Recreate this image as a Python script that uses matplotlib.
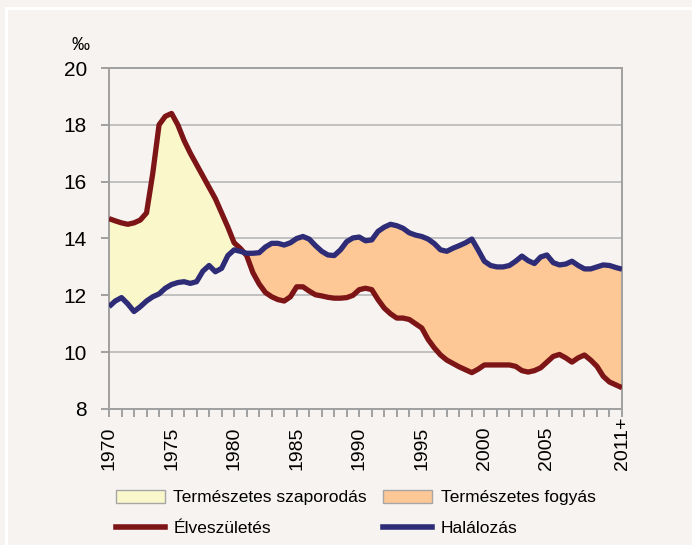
import matplotlib
matplotlib.use('Agg')
import numpy as np
import matplotlib.pyplot as plt
from matplotlib import font_manager
from matplotlib.patches import Patch
from matplotlib.lines import Line2D

# half-year grid, values in per mille
years = np.arange(1970, 2011.01, 0.5)

births = [14.7, 14.62, 14.55, 14.5, 14.55, 14.65, 14.9, 16.3, 18.0, 18.3,
          18.4, 18.0, 17.45, 17.0, 16.6, 16.2, 15.8, 15.4, 14.9, 14.4,
          13.85, 13.65, 13.4, 12.8, 12.4, 12.1, 11.95, 11.85, 11.8, 11.95,
          12.3, 12.3, 12.15, 12.02, 11.98, 11.93, 11.9, 11.9, 11.92, 12.0,
          12.2, 12.25, 12.2, 11.85, 11.55, 11.35, 11.2, 11.2, 11.15, 11.0,
          10.85, 10.45, 10.15, 9.9, 9.72, 9.6, 9.48, 9.38, 9.28, 9.4,
          9.55, 9.55, 9.55, 9.55, 9.55, 9.5, 9.35, 9.3, 9.35, 9.45,
          9.65, 9.85, 9.92, 9.8, 9.65, 9.8, 9.9, 9.72, 9.5, 9.15,
          8.95, 8.85, 8.75]

deaths = [11.6, 11.8, 11.92, 11.7, 11.43, 11.6, 11.8, 11.95, 12.05, 12.25,
          12.38, 12.45, 12.48, 12.42, 12.48, 12.85, 13.05, 12.83, 12.95, 13.4,
          13.6, 13.55, 13.48, 13.48, 13.5, 13.7, 13.83, 13.83, 13.77, 13.85,
          14.0, 14.07, 13.98, 13.75, 13.55, 13.42, 13.4, 13.6, 13.89, 14.02,
          14.05, 13.92, 13.95, 14.25, 14.4, 14.5, 14.45, 14.36, 14.2, 14.12,
          14.07, 13.98, 13.82, 13.6, 13.55, 13.66, 13.75, 13.85, 13.98, 13.6,
          13.2, 13.05, 13.0, 13.0, 13.05, 13.2, 13.38, 13.22, 13.12, 13.35,
          13.42, 13.15, 13.07, 13.1, 13.2, 13.05, 12.93, 12.93, 13.0, 13.07,
          13.05, 12.98, 12.92]

xticks = [1970, 1975, 1980, 1985, 1990, 1995, 2000, 2005, 2011]
xlabels = ['1970', '1975', '1980', '1985', '1990', '1995', '2000', '2005', '2011+']
yticks = [8, 10, 12, 14, 16, 18, 20]

bg = '#F6F3F0'
red = '#7D1416'
blue = '#2E2C76'
yellow = '#FAF7CB'
orange = '#FDC896'
axcol = '#A0A0A0'

names = [f.name for f in font_manager.fontManager.ttflist]
if 'Liberation Sans Narrow' in names:
    plt.rcParams['font.family'] = ['Liberation Sans Narrow', 'DejaVu Sans']
else:
    plt.rcParams['font.family'] = ['Liberation Sans', 'DejaVu Sans']

b = np.array(births)
d = np.array(deaths)

fig = plt.figure(figsize=(6.92, 5.45), dpi=100)
fig.patch.set_facecolor(bg)
ax = fig.add_axes([109/692, 1-409/545, 513/692, 341/545])
ax.set_facecolor(bg)

# white frame line
fig.add_artist(Line2D([6/692, 6/692], [0, 1-8/545], color='white', lw=2.2, transform=fig.transFigure))
fig.add_artist(Line2D([6/692, 1], [1-8/545, 1-8/545], color='white', lw=2.2, transform=fig.transFigure))

ax.fill_between(years, b, d, where=b >= d, interpolate=True, color=yellow, lw=0)
ax.fill_between(years, b, d, where=b <= d, interpolate=True, color=orange, lw=0)
ax.plot(years, b, color=red, lw=3.8, solid_joinstyle='round', solid_capstyle='butt', zorder=4)
ax.plot(years, d, color=blue, lw=3.8, solid_joinstyle='round', solid_capstyle='butt', zorder=4)

ax.set_xlim(1970, 2011)
ax.set_ylim(8, 20)
ax.set_yticks(yticks)
ax.set_xticks(xticks)
# labels bottom-aligned like the original
ax.set_xticklabels(xlabels, rotation=90, va='bottom')
ax.set_xticks(np.arange(1970, 2012), minor=True)
ax.yaxis.grid(True, color='#C0C0C0', lw=1.4, zorder=0)
ax.set_axisbelow(True)
for s in ax.spines.values():
    s.set_color(axcol)
    s.set_linewidth(1.4)
ax.tick_params(axis='both', which='both', color=axcol, width=1.4, length=6, direction='out')
ax.tick_params(axis='y', labelsize=15, pad=10)
ax.tick_params(axis='x', labelsize=14, pad=38)

fig.text(80/692, 1-45/545, '‰', fontsize=13, ha='center', va='center')

handles = [Patch(facecolor=yellow, edgecolor='#A6A6A6', lw=1),
           Line2D([], [], color=red, lw=4),
           Patch(facecolor=orange, edgecolor='#A6A6A6', lw=1),
           Line2D([], [], color=blue, lw=4)]
labels = ['Természetes szaporodás', 'Élveszületés', 'Természetes fogyás', 'Halálozás']
fig.legend(handles, labels, ncol=2, loc='upper left', bbox_to_anchor=(109/692, 1-483/545),
           frameon=False, fontsize=12.5, handlelength=2.8, handleheight=0.75,
           handletextpad=0.5, columnspacing=0.95, labelspacing=0.9, borderaxespad=0)

fig.savefig('out.png', dpi=100, facecolor=bg)
